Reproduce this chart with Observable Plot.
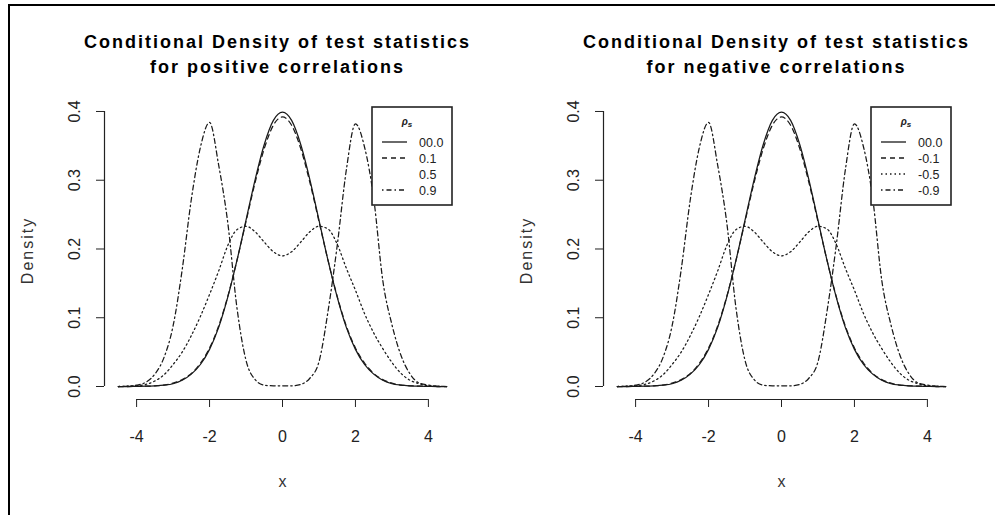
<!DOCTYPE html>
<html>
<head>
<meta charset="utf-8">
<script src="https://cdn.jsdelivr.net/npm/d3@7"></script>
<script src="https://cdn.jsdelivr.net/npm/@observablehq/plot@0.6"></script>
<style>
  html, body { margin: 0; padding: 0; background: #fff; width: 999px; height: 515px; overflow: hidden; font-family: "Liberation Sans", Arial, sans-serif; }
  #wrap { position: relative; width: 999px; height: 515px; }
  .border { position: absolute; left: 8px; top: 4px; width: 985px; height: 530px; border-top: 2px solid #000; border-left: 2px solid #000; }
  .panel { position: absolute; top: 0; }
  .legend { position: absolute; }
</style>
</head>
<body>
<div id="wrap"><div class="border"></div></div>
<script>
// ---- data ----
const xGrid = [-4.5,-4.25,-4,-3.75,-3.5,-3.25,-3,-2.75,-2.5,-2.25,-2,-1.75,-1.5,-1.25,-1,-0.75,-0.5,-0.25,0,
               0.25,0.5,0.75,1,1.25,1.5,1.75,2,2.25,2.5,2.75,3,3.25,3.5,3.75,4,4.25,4.5];
const dens00 = [0,0,0.0002,0.0004,0.001,0.002,0.004,0.009,0.018,0.032,0.054,0.086,0.130,0.183,0.242,0.301,0.352,0.387,0.399,
                0.387,0.352,0.301,0.242,0.183,0.130,0.086,0.054,0.032,0.018,0.009,0.004,0.002,0.001,0.0004,0.0002,0,0];
const dens01 = [0,0,0.0003,0.0005,0.001,0.002,0.005,0.010,0.019,0.034,0.056,0.088,0.131,0.183,0.240,0.297,0.346,0.380,0.392,
                0.380,0.346,0.297,0.240,0.183,0.131,0.088,0.056,0.034,0.019,0.010,0.005,0.002,0.001,0.0005,0.0003,0,0];
const dens05 = [0,0.0005,0.001,0.003,0.008,0.017,0.032,0.050,0.074,0.102,0.134,0.168,0.205,0.228,0.233,0.225,0.210,0.196,0.190,
                0.196,0.210,0.225,0.233,0.229,0.207,0.172,0.140,0.106,0.078,0.055,0.035,0.019,0.009,0.004,0.001,0.0005,0];
const dens09 = [0,0.0005,0.002,0.006,0.018,0.042,0.088,0.170,0.272,0.348,0.384,0.322,0.238,0.115,0.038,0.010,0.002,0.001,0.001,
                0.001,0.003,0.012,0.036,0.110,0.205,0.315,0.382,0.348,0.274,0.154,0.090,0.045,0.018,0.005,0.002,0.0005,0];
const seriesValues = [dens00, dens01, dens05, dens09];

const xTicks = [-4, -2, 0, 2, 4];
const yTicks = [0, 0.1, 0.2, 0.3, 0.4];
const titleLine1 = "Conditional Density of test statistics";
const titleLine2 = ["for positive correlations", "for negative correlations"];
const legendLabels = [["00.0", "0.1", "0.5", "0.9"], ["00.0", "-0.1", "-0.5", "-0.9"]];
const legendLineShown = [[true, true, false, true], [true, true, true, true]];
const xLabel = "x";
const yLabel = "Density";
const xLimits = [-4.88, 4.88];
const yLimits = [-0.0189, 0.4145];

// ---- styles ----
const lineDash = [null, "5,4", "1.5,3", "1.5,3,5,3"];
const ink = "#1a1a1a";

function makePanel(p) {
  const marks = [];
  seriesValues.forEach((vals, i) => {
    const rows = xGrid.map((x, j) => ({x, y: vals[j]}));
    marks.push(Plot.line(rows, {x: "x", y: "y", stroke: ink, strokeWidth: 1.25,
      strokeDasharray: lineDash[i] || undefined, curve: "monotone-x"}));
  });
  // R-style axis lines spanning the tick range
  marks.push(Plot.ruleY([yLimits[0]], {x1: xTicks[0], x2: xTicks[xTicks.length - 1], stroke: "#222", strokeWidth: 1.2}));
  marks.push(Plot.ruleX([xLimits[0]], {y1: yTicks[0], y2: yTicks[yTicks.length - 1], stroke: "#222", strokeWidth: 1.2}));
  marks.push(Plot.axisX({ticks: xTicks, tickSize: 8, tickPadding: 23, fontSize: 16, label: null, stroke: "#222", fill: "#222", tickFormat: d => String(d).replace("−", "-")}));
  marks.push(Plot.axisY({ticks: yTicks, tickSize: 8, tickFormat: () => "", label: null, stroke: "#222"}));
  marks.push(Plot.text(yTicks, {x: xLimits[0], y: d => d, text: d => d.toFixed(1), rotate: -90, dx: -30,
    fontSize: 16, textAnchor: "middle", lineAnchor: "middle", fill: "#222"}));
  // axis titles
  marks.push(Plot.text([xLabel], {frameAnchor: "bottom", dy: 82, fontSize: 16, fill: "#333", lineAnchor: "middle"}));
  marks.push(Plot.text([yLabel], {frameAnchor: "left", dx: -77, rotate: -90, fontSize: 16, fill: "#333",
    lineAnchor: "middle", textAnchor: "middle"}));
  // main title
  marks.push(Plot.text([titleLine1], {frameAnchor: "top", dx: -5, dy: -59, fontSize: 18, fontWeight: "bold", fill: "#000",
    lineAnchor: "middle"}));
  marks.push(Plot.text([titleLine2[p]], {frameAnchor: "top", dx: -5, dy: -34, fontSize: 18, fontWeight: "bold", fill: "#000",
    lineAnchor: "middle"}));

  const svg = Plot.plot({
    width: 499, height: 515,
    marginLeft: 104, marginRight: 39, marginTop: 101, marginBottom: 116,
    x: {domain: xLimits},
    y: {domain: yLimits},
    style: {fontFamily: "'Liberation Sans', Arial, sans-serif", background: "transparent", overflow: "visible", color: "#222"},
    marks
  });
  const spaced = new Set([titleLine1, ...titleLine2, yLabel]);
  svg.querySelectorAll("text").forEach(t => {
    if (spaced.has(t.textContent)) t.style.letterSpacing = "2px";
  });
  return svg;
}

function makeLegend(p) {
  const ns = "http://www.w3.org/2000/svg";
  const svg = document.createElementNS(ns, "svg");
  svg.setAttribute("width", 84); svg.setAttribute("height", 102);
  let html = `<rect x="1" y="1" width="80" height="98" fill="#fff" stroke="#222" stroke-width="1.6"/>`;
  html += `<text x="36" y="19" font-size="10" font-style="italic" font-weight="bold" text-anchor="middle" fill="#222">ρ<tspan font-size="8" dy="2">s</tspan></text>`;
  legendLabels[p].forEach((lab, i) => {
    const cy = 36 + i * 16;
    if (legendLineShown[p][i]) {
      html += `<line x1="11" x2="36" y1="${cy}" y2="${cy}" stroke="${ink}" stroke-width="1.3" ${lineDash[i] ? `stroke-dasharray="${lineDash[i]}"` : ""}/>`;
    }
    html += `<text x="48" y="${cy + 4.5}" font-size="12.5" fill="#222">${lab}</text>`;
  });
  svg.innerHTML = html;
  return svg;
}

const wrap = document.getElementById("wrap");
[0, 1].forEach(p => {
  const left = p === 0 ? 0 : 499;
  const div = document.createElement("div");
  div.className = "panel";
  div.style.left = left + "px";
  div.appendChild(makePanel(p));
  wrap.appendChild(div);
  const lg = document.createElement("div");
  lg.className = "legend";
  lg.style.left = (left + 371) + "px";
  lg.style.top = "106px";
  lg.appendChild(makeLegend(p));
  wrap.appendChild(lg);
});
</script>
</body>
</html>
